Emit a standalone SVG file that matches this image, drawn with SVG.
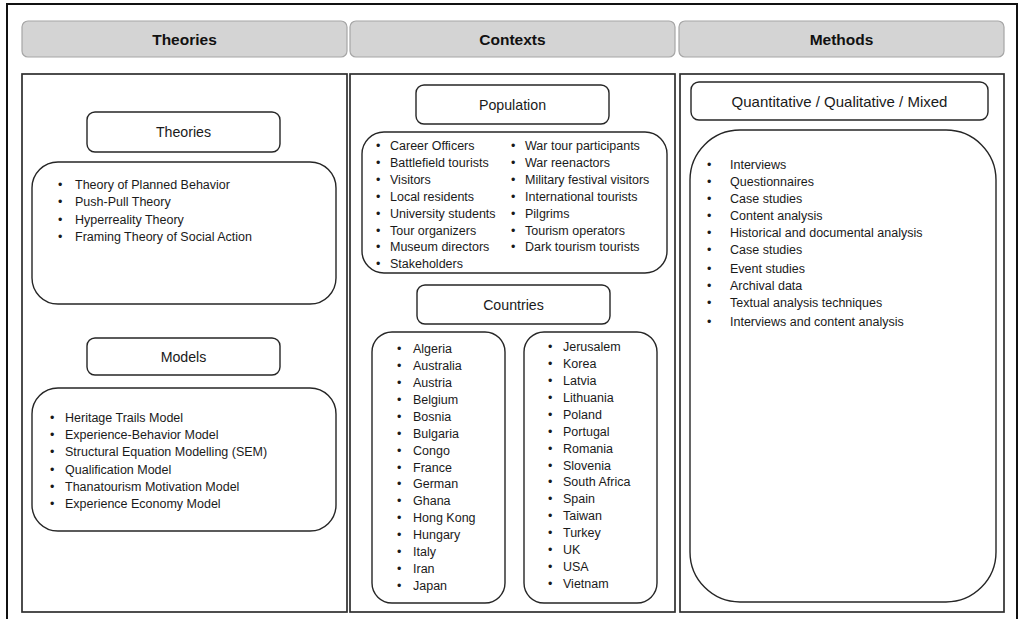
<svg xmlns="http://www.w3.org/2000/svg" width="1019" height="619" viewBox="0 0 1019 619">
<style>
.hdr{fill:#d4d4d4;stroke:#a6a6a6;stroke-width:1.2}
.panel{fill:#fff;stroke:#2e2e2e;stroke-width:1.7}
.box{fill:#fff;stroke:#262626;stroke-width:1.4}
.ht{font-family:"Liberation Sans",Arial,sans-serif;font-size:15.5px;font-weight:bold;fill:#111;text-anchor:middle;dominant-baseline:central}
.tt{font-family:"Liberation Sans",Arial,sans-serif;font-size:14.2px;fill:#1a1a1a;text-anchor:middle;dominant-baseline:central}
.li{font-family:"Liberation Sans",Arial,sans-serif;font-size:12.5px;fill:#1a1a1a}
</style>
<rect x="7" y="4" width="1010" height="630" fill="#fff" stroke="#111" stroke-width="2"/>
<g id="header-theories"><rect class="hdr" x="22" y="21" width="325" height="36" rx="6"/><text class="ht" x="184.5" y="39">Theories</text></g>
<g id="header-contexts"><rect class="hdr" x="350" y="21" width="325" height="36" rx="6"/><text class="ht" x="512.5" y="39">Contexts</text></g>
<g id="header-methods"><rect class="hdr" x="679" y="21" width="325" height="36" rx="6"/><text class="ht" x="841.5" y="39">Methods</text></g>
<g id="panel-theories"><rect class="panel" x="22" y="74" width="325" height="538"/></g>
<g id="panel-contexts"><rect class="panel" x="350" y="74" width="325" height="538"/></g>
<g id="panel-methods"><rect class="panel" x="680" y="74" width="324" height="538"/></g>
<g id="theories-title"><rect class="box" x="87" y="112" width="193" height="40" rx="8"/><text class="tt" x="183.5" y="132">Theories</text></g>
<g id="theories-list"><rect class="box" x="32" y="162" width="304" height="142" rx="26"/>
<text class="li" x="58" y="189">•</text><text class="li" x="75" y="189">Theory of Planned Behavior</text>
<text class="li" x="58" y="206.3">•</text><text class="li" x="75" y="206.3">Push-Pull Theory</text>
<text class="li" x="58" y="223.6">•</text><text class="li" x="75" y="223.6">Hyperreality Theory</text>
<text class="li" x="58" y="241">•</text><text class="li" x="75" y="241">Framing Theory of Social Action</text>
</g>
<g id="models-title"><rect class="box" x="87" y="338" width="193" height="37" rx="8"/><text class="tt" x="183.5" y="357">Models</text></g>
<g id="models-list"><rect class="box" x="32" y="388" width="304" height="143" rx="26"/>
<text class="li" x="50" y="422">•</text><text class="li" x="65" y="422">Heritage Trails Model</text>
<text class="li" x="50" y="439.2">•</text><text class="li" x="65" y="439.2">Experience-Behavior Model</text>
<text class="li" x="50" y="456.4">•</text><text class="li" x="65" y="456.4">Structural Equation Modelling (SEM)</text>
<text class="li" x="50" y="473.6">•</text><text class="li" x="65" y="473.6">Qualification Model</text>
<text class="li" x="50" y="490.8">•</text><text class="li" x="65" y="490.8">Thanatourism Motivation Model</text>
<text class="li" x="50" y="508">•</text><text class="li" x="65" y="508">Experience Economy Model</text>
</g>
<g id="population-title"><rect class="box" x="416" y="85" width="193" height="39" rx="8"/><text class="tt" x="512.5" y="104.5">Population</text></g>
<g id="population-list"><rect class="box" x="362" y="132" width="305" height="141" rx="22"/>
<text class="li" x="376" y="150">•</text><text class="li" x="390" y="150">Career Officers</text>
<text class="li" x="376" y="166.9">•</text><text class="li" x="390" y="166.9">Battlefield tourists</text>
<text class="li" x="376" y="183.8">•</text><text class="li" x="390" y="183.8">Visitors</text>
<text class="li" x="376" y="200.7">•</text><text class="li" x="390" y="200.7">Local residents</text>
<text class="li" x="376" y="217.6">•</text><text class="li" x="390" y="217.6">University students</text>
<text class="li" x="376" y="234.5">•</text><text class="li" x="390" y="234.5">Tour organizers</text>
<text class="li" x="376" y="251.4">•</text><text class="li" x="390" y="251.4">Museum directors</text>
<text class="li" x="376" y="268.3">•</text><text class="li" x="390" y="268.3">Stakeholders</text>
<text class="li" x="511" y="150">•</text><text class="li" x="525" y="150">War tour participants</text>
<text class="li" x="511" y="166.9">•</text><text class="li" x="525" y="166.9">War reenactors</text>
<text class="li" x="511" y="183.8">•</text><text class="li" x="525" y="183.8">Military festival visitors</text>
<text class="li" x="511" y="200.7">•</text><text class="li" x="525" y="200.7">International tourists</text>
<text class="li" x="511" y="217.6">•</text><text class="li" x="525" y="217.6">Pilgrims</text>
<text class="li" x="511" y="234.5">•</text><text class="li" x="525" y="234.5">Tourism operators</text>
<text class="li" x="511" y="251.4">•</text><text class="li" x="525" y="251.4">Dark tourism tourists</text>
</g>
<g id="countries-title"><rect class="box" x="417" y="285" width="193" height="39" rx="8"/><text class="tt" x="513.5" y="304.5">Countries</text></g>
<g id="countries-left"><rect class="box" x="372" y="332" width="133" height="271" rx="20"/>
<text class="li" x="397" y="353">•</text><text class="li" x="413" y="353">Algeria</text>
<text class="li" x="397" y="369.9">•</text><text class="li" x="413" y="369.9">Australia</text>
<text class="li" x="397" y="386.9">•</text><text class="li" x="413" y="386.9">Austria</text>
<text class="li" x="397" y="403.8">•</text><text class="li" x="413" y="403.8">Belgium</text>
<text class="li" x="397" y="420.7">•</text><text class="li" x="413" y="420.7">Bosnia</text>
<text class="li" x="397" y="437.7">•</text><text class="li" x="413" y="437.7">Bulgaria</text>
<text class="li" x="397" y="454.6">•</text><text class="li" x="413" y="454.6">Congo</text>
<text class="li" x="397" y="471.5">•</text><text class="li" x="413" y="471.5">France</text>
<text class="li" x="397" y="488.4">•</text><text class="li" x="413" y="488.4">German</text>
<text class="li" x="397" y="505.4">•</text><text class="li" x="413" y="505.4">Ghana</text>
<text class="li" x="397" y="522.3">•</text><text class="li" x="413" y="522.3">Hong Kong</text>
<text class="li" x="397" y="539.2">•</text><text class="li" x="413" y="539.2">Hungary</text>
<text class="li" x="397" y="556.2">•</text><text class="li" x="413" y="556.2">Italy</text>
<text class="li" x="397" y="573.1">•</text><text class="li" x="413" y="573.1">Iran</text>
<text class="li" x="397" y="590">•</text><text class="li" x="413" y="590">Japan</text>
</g>
<g id="countries-right"><rect class="box" x="524" y="332" width="133" height="271" rx="20"/>
<text class="li" x="548" y="351">•</text><text class="li" x="563" y="351">Jerusalem</text>
<text class="li" x="548" y="367.9">•</text><text class="li" x="563" y="367.9">Korea</text>
<text class="li" x="548" y="384.9">•</text><text class="li" x="563" y="384.9">Latvia</text>
<text class="li" x="548" y="401.8">•</text><text class="li" x="563" y="401.8">Lithuania</text>
<text class="li" x="548" y="418.7">•</text><text class="li" x="563" y="418.7">Poland</text>
<text class="li" x="548" y="435.7">•</text><text class="li" x="563" y="435.7">Portugal</text>
<text class="li" x="548" y="452.6">•</text><text class="li" x="563" y="452.6">Romania</text>
<text class="li" x="548" y="469.5">•</text><text class="li" x="563" y="469.5">Slovenia</text>
<text class="li" x="548" y="486.4">•</text><text class="li" x="563" y="486.4">South Africa</text>
<text class="li" x="548" y="503.4">•</text><text class="li" x="563" y="503.4">Spain</text>
<text class="li" x="548" y="520.3">•</text><text class="li" x="563" y="520.3">Taiwan</text>
<text class="li" x="548" y="537.2">•</text><text class="li" x="563" y="537.2">Turkey</text>
<text class="li" x="548" y="554.2">•</text><text class="li" x="563" y="554.2">UK</text>
<text class="li" x="548" y="571.1">•</text><text class="li" x="563" y="571.1">USA</text>
<text class="li" x="548" y="588">•</text><text class="li" x="563" y="588">Vietnam</text>
</g>
<g id="methods-title"><rect class="box" x="691" y="82" width="297" height="38" rx="8"/><text class="tt" x="839.5" y="101" style="font-size:15px">Quantitative / Qualitative / Mixed</text></g>
<g id="methods-list"><rect class="box" x="690" y="130" width="306" height="472" rx="50"/>
<text class="li" x="707" y="169">•</text><text class="li" x="730" y="169">Interviews</text>
<text class="li" x="707" y="186">•</text><text class="li" x="730" y="186">Questionnaires</text>
<text class="li" x="707" y="202.5">•</text><text class="li" x="730" y="202.5">Case studies</text>
<text class="li" x="707" y="220">•</text><text class="li" x="730" y="220">Content analysis</text>
<text class="li" x="707" y="237">•</text><text class="li" x="730" y="237">Historical and documental analysis</text>
<text class="li" x="707" y="254">•</text><text class="li" x="730" y="254">Case studies</text>
<text class="li" x="707" y="273">•</text><text class="li" x="730" y="273">Event studies</text>
<text class="li" x="707" y="289.5">•</text><text class="li" x="730" y="289.5">Archival data</text>
<text class="li" x="707" y="306.5">•</text><text class="li" x="730" y="306.5">Textual analysis techniques</text>
<text class="li" x="707" y="326">•</text><text class="li" x="730" y="326">Interviews and content analysis</text>
</g>
<g id="connectors"></g>
</svg>
